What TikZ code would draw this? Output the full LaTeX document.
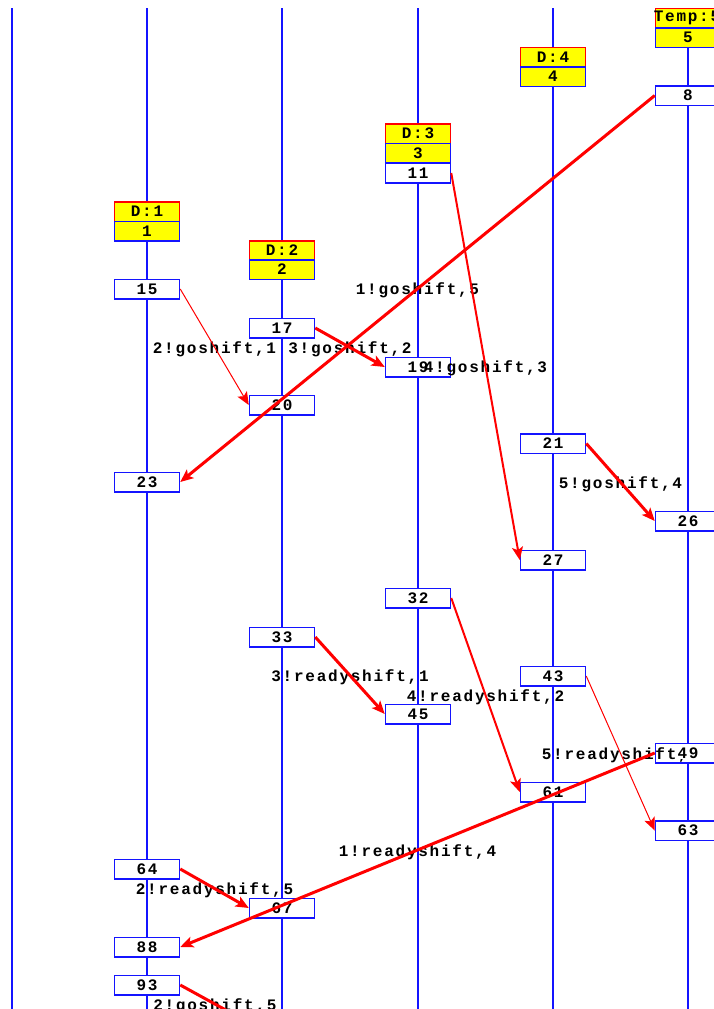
\documentclass[tikz,border=0pt]{standalone}
\usepackage{fontspec}
\newfontfamily\lblfont[LetterSpace=11]{Liberation Mono}
\usetikzlibrary{arrows.meta}
\definecolor{lblue}{RGB}{20,20,255}
\definecolor{lred}{RGB}{255,0,0}
\definecolor{lyellow}{RGB}{255,255,0}
\tikzset{
  life/.style={draw=lblue, line width=1.5pt},
  ev/.style={draw=lblue, fill=white, line width=1.5pt, minimum width=65pt, minimum height=19.5pt, inner sep=0pt, font=\fontsize{16}{18}\lblfont\bfseries},
  hdr/.style={ev, fill=lyellow, draw=lred},
  hnum/.style={ev, fill=lyellow},
  msg/.style={draw=lred, line width=3pt, -{Stealth[length=13pt,width=11pt,inset=3pt]}},
  msgmid/.style={msg, line width=2pt},
  msgthin/.style={msg, line width=1pt},
  lab/.style={font=\fontsize{16}{18}\lblfont\bfseries, inner sep=0pt, anchor=base, yshift=-6pt},
  evtext/.style={font=\fontsize{16}{18}\lblfont\bfseries, fill=white, inner sep=0.5pt}
}
\begin{document}
\begin{tikzpicture}[x=1pt,y=-1pt]
\useasboundingbox (0,0) rectangle (714,1009);
\clip (0,0) rectangle (714,1009);
% lifelines
\foreach \n/\x in {0/12,1/147,2/282,3/418,4/553,5/688}{
  \coordinate (t\n) at (\x,8);
  \coordinate (b\n) at (\x,1015);
  \draw[life] (t\n) -- (b\n);
}
% headers
\node[hdr]  (hd1) at (147,211.5) {D:1};
\node[hnum] (hn1) at (147,231) {1};
\node[hdr]  (hd2) at (282,250.5) {D:2};
\node[hnum] (hn2) at (282,269.5) {2};
\node[hdr]  (hd3) at (418,133.5) {D:3};
\node[hnum] (hn3) at (418,153) {3};
\node[hdr]  (hd4) at (553,57) {D:4};
\node[hnum] (hn4) at (553,76.5) {4};
\node[hdr]  (hd5) at (688,18) {};
\node[ev, draw=none, fill=none] (hd5t) at (687,18) {Temp:5};
\node[hnum] (hn5) at (688,37.5) {5};
% event boxes
\node[ev] (e15) at (147,289) {15};
\node[ev] (e23) at (147,482) {23};
\node[ev] (e64) at (147,869) {64};
\node[ev] (e88) at (147,947) {88};
\node[ev] (e93) at (147,985) {93};
\node[ev] (e17) at (282,328) {17};
\node[ev] (e20) at (282,405) {20};
\node[ev] (e33) at (282,637) {33};
\node[ev] (e67) at (282,908) {67};
\node[ev] (e11) at (418,173) {11};
\node[ev] (e19) at (418,367) {19};
\node[ev] (e32) at (418,598) {32};
\node[ev] (e45) at (418,714) {45};
\node[ev] (e21) at (553,443.5) {21};
\node[ev] (e27) at (553,560) {27};
\node[ev] (e43) at (553,676) {43};
\node[ev] (e61) at (553,792) {61};
\node[ev] (e8)  at (688,95.5) {8};
\node[ev] (e26) at (688,521) {26};
\node[ev] (e49) at (688,753) {};
\node[ev] (e63) at (688,830.5) {63};
\coordinate (x93) at (249.5,1023);
% labels
\path (e15.east) -- (e20.west) node[lab,pos=0.5] {2!goshift,1};
\path (e17.east) -- (e19.west) node[lab,pos=0.5] {3!goshift,2};
\path (e8.west)  -- (e23.east) node[lab,pos=0.5] {1!goshift,5};
\path (e11.east) -- (e27.west) node[lab,pos=0.5] {4!goshift,3};
\path (e21.east) -- (e26.west) node[lab,pos=0.5] {5!goshift,4};
\path (e33.east) -- (e45.west) node[lab,pos=0.5] {3!readyshift,1};
\path (e32.east) -- (e61.west) node[lab,pos=0.5] {4!readyshift,2};
\path (e43.east) -- (e63.west) node[lab,pos=0.5] {5!readyshift,4};
\path (e49.west) -- (e88.east) node[lab,pos=0.5] {1!readyshift,4};
\path (e64.east) -- (e67.west) node[lab,pos=0.5] {2!readyshift,5};
\path (e93.east) -- (x93)      node[lab,pos=0.5] {2!goshift,5};
% text of box 49 printed over the neighbouring label
\node[evtext] (e49t) at (e49) {49};
% messages
\draw[msgthin] (e15.east) -- (e20.west);
\draw[msg]     (e17.east) -- (e19.west);
\draw[msg]     (e8.west)  -- (e23.east);
\draw[msgmid]  (e11.east) -- (e27.west);
\draw[msg]     (e21.east) -- (e26.west);
\draw[msg]     (e33.east) -- (e45.west);
\draw[msgmid]  (e32.east) -- (e61.west);
\draw[msgthin] (e43.east) -- (e63.west);
\draw[msg]     (e49.west) -- (e88.east);
\draw[msg]     (e64.east) -- (e67.west);
\draw[msg]     (e93.east) -- (x93);
\end{tikzpicture}
\end{document}
